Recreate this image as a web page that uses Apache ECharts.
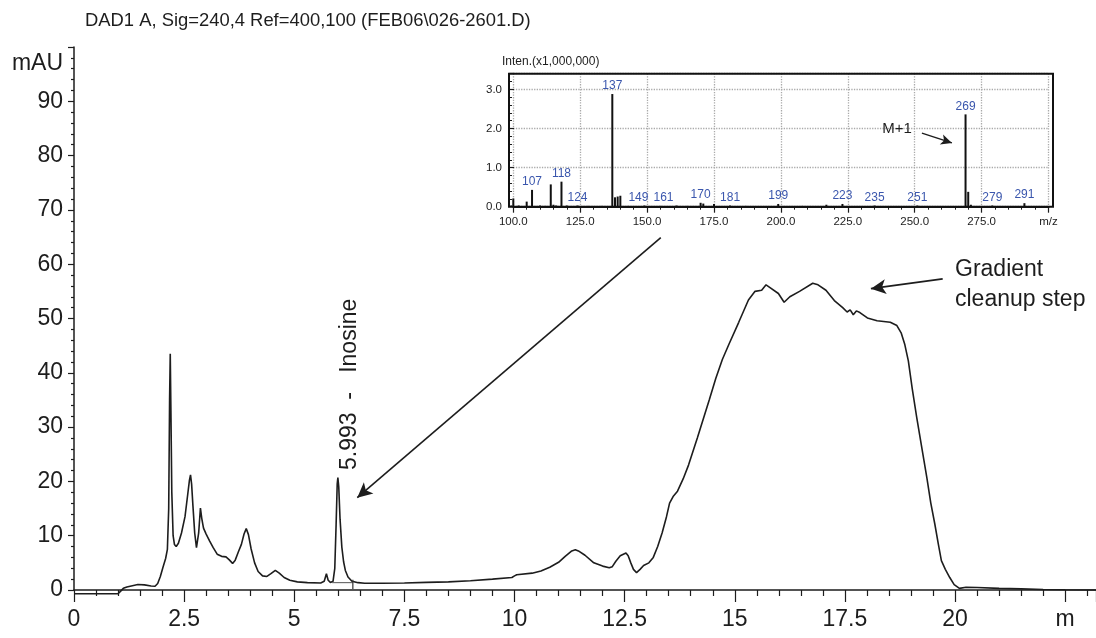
<!DOCTYPE html>
<html><head><meta charset="utf-8">
<script src="https://cdn.jsdelivr.net/npm/echarts@6/dist/echarts.min.js"></script>
<style>html,body{margin:0;padding:0;background:#fff}#c{width:1096px;height:638px}</style>
</head><body><div id="c"></div>
<script>
// ---- Chromatogram (retention time in min, absorbance in mAU) ----
const chromatogram = [
  [0,-0.7],[1.0,-0.7],[1.06,-0.2],[1.12,0.3],[1.2,0.55],[1.3,0.75],[1.45,1.0],[1.6,0.95],[1.75,0.75],[1.84,0.7],
  [1.9,1.2],[1.96,2.5],[2.02,4.2],[2.08,5.8],[2.12,7.5],[2.15,15],[2.17,35],[2.185,43.5],[2.2,33],[2.22,18],
  [2.25,10],[2.28,8.4],[2.32,8.0],[2.37,8.6],[2.44,10.5],[2.52,13.5],[2.58,17.5],[2.62,20.2],[2.645,21.2],[2.67,19.5],
  [2.7,15.5],[2.74,10.5],[2.78,7.8],[2.8,7.6],[2.83,10.5],[2.87,15.1],[2.9,13.2],[2.94,11.4],[3.0,10.3],[3.08,9.0],
  [3.16,7.8],[3.25,6.6],[3.35,6.2],[3.45,6.1],[3.52,5.6],[3.6,4.9],[3.66,5.5],[3.73,7.0],[3.8,8.4],[3.86,10.3],
  [3.91,11.3],[3.96,10.2],[4.02,7.6],[4.1,5.0],[4.18,3.4],[4.28,2.6],[4.38,2.5],[4.47,3.0],[4.57,3.6],[4.66,3.1],
  [4.77,2.3],[4.9,1.8],[5.07,1.5],[5.3,1.35],[5.6,1.3],[5.68,1.6],[5.73,3.0],[5.77,1.8],[5.82,1.4],[5.88,1.6],
  [5.92,4.0],[5.95,12.0],[5.975,19.5],[5.99,20.7],[6.01,19.0],[6.04,13.0],[6.08,7.9],[6.12,5.2],[6.16,3.6],[6.22,2.4],
  [6.31,1.6],[6.45,1.35],[6.6,1.25],[7.0,1.25],[7.5,1.3],[8.0,1.4],[8.5,1.5],[9.0,1.7],[9.5,2.0],[9.94,2.3],
  [10.0,2.6],[10.05,2.8],[10.4,3.1],[10.6,3.5],[10.8,4.2],[11.0,5.1],[11.15,6.2],[11.3,7.2],[11.38,7.4],[11.45,7.2],
  [11.6,6.4],[11.8,5.0],[12.0,4.4],[12.15,4.1],[12.22,4.3],[12.3,5.3],[12.4,6.3],[12.53,6.8],[12.58,6.3],[12.64,5.0],
  [12.7,3.8],[12.77,3.2],[12.85,3.8],[12.93,4.5],[13.05,5.0],[13.15,6.0],[13.25,8.0],[13.35,10.5],[13.45,13.5],[13.52,16.0],
  [13.6,17.2],[13.7,18.2],[13.83,20.5],[13.95,23.0],[14.15,28.0],[14.42,35.0],[14.57,39.0],[14.72,42.5],[14.87,45.3],[15.09,49.3],
  [15.31,53.4],[15.46,55.0],[15.61,55.2],[15.71,56.2],[15.8,55.7],[15.99,54.6],[16.12,53.0],[16.25,54.0],[16.47,55.0],[16.77,56.5],
  [16.89,56.2],[17.07,55.2],[17.26,53.3],[17.45,52.0],[17.55,51.2],[17.62,51.6],[17.69,50.7],[17.76,51.4],[17.84,51.1],[18.01,50.1],
  [18.23,49.6],[18.53,49.3],[18.68,48.7],[18.78,47.3],[18.86,45.2],[18.94,42.2],[19.03,37.0],[19.13,31.8],[19.25,26.0],[19.36,20.7],
  [19.45,16.0],[19.54,12.2],[19.62,8.5],[19.69,5.4],[19.78,3.8],[19.88,2.3],[19.98,1.0],[20.1,0.3],[20.25,0.5],[20.5,0.45],
  [21.0,0.3],[21.5,0.2],[22.0,0.1],[22.5,0.05],[23.2,0.0]
];
const integrationBaseline = [[5.86,1.35],[6.33,1.35]];
const integrationMarker = [[6.33,1.9],[6.33,0.2]];

// ---- Inset mass spectrum (m/z, intensity x1,000,000) ----
const spectrum = [
  [99,0.04],[100,0.21],[102,0.03],[105,0.13],[107,0.43],[110,0.03],[112,0.02],[114,0.57],[115,0.05],[116,0.03],
  [118,0.64],[120,0.03],[124,0.03],[128,0.02],[133,0.02],[137,2.88],[138,0.24],[139,0.26],[140,0.28],[143,0.02],
  [149,0.03],[155,0.02],[161,0.03],[165,0.02],[170,0.10],[171,0.08],[175,0.07],[181,0.03],[187,0.02],[199,0.07],
  [208,0.02],[217,0.05],[223,0.07],[235,0.03],[251,0.03],[269,2.36],[270,0.38],[271,0.05],[279,0.03],[291,0.09]
];
const labeledMz = [107,118,124,137,149,161,170,181,199,223,235,251,269,279,291];

// ---- Texts ----
const titleText = 'DAD1 A, Sig=240,4 Ref=400,100 (FEB06\\026-2601.D)';
const yUnit = 'mAU';
const xUnitLabel = 'm';
const peakAnnotation = '5.993  -   Inosine';
const cleanupAnnotation = 'Gradient\ncleanup step';
const insetYName = 'Inten.(x1,000,000)';
const insetXUnit = 'm/z';
const molecularIon = 'M+1';

// ---- Arrows (data coordinates) ----
const arrowToPeak = [[13.32, 64.9],[6.43, 17.0]];
const arrowToCleanup = [[19.72, 57.3],[18.09, 55.5]];
const arrowToMolIon = [[252.7, 1.88],[263.9, 1.63]];

const FF = "'Liberation Sans', Arial, Helvetica, sans-serif";
const INK = '#1d1d1d';
const labelOffsets = {149: [-6, 0], 161: [-13, 0]};

const chart = echarts.init(document.getElementById('c'), null, {renderer: 'canvas'});

const isMultiple = (v, s) => Math.abs(v / s - Math.round(v / s)) < 1e-6;

const spectrumData = spectrum.map(([mz, it]) => ({
  value: [mz, it],
  label: {show: labeledMz.includes(mz), offset: labelOffsets[mz] || [0, 0]}
}));

const option = {
  animation: false,
  backgroundColor: '#fff',
  textStyle: {fontFamily: FF},
  grid: [
    {left: 74, top: 47, width: 1022, height: 543},
    {left: 513.3, top: 73.7, width: 535.2, height: 133}
  ],
  xAxis: [
    {
      type: 'value', gridIndex: 0, min: 0, max: 23.2, interval: 2.5,
      axisLine: {onZero: false, lineStyle: {color: INK, width: 1.5}},
      axisTick: {show: true, length: 12, lineStyle: {color: INK, width: 1.2}},
      minorTick: {show: true, splitNumber: 5, length: 6, lineStyle: {color: INK, width: 1.2}},
      splitLine: {show: false},
      axisLabel: {
        fontSize: 23, color: INK, fontFamily: FF, margin: 18, showMaxLabel: false,
        formatter: v => Math.abs(v - 22.5) < 1e-6 ? xUnitLabel : (isMultiple(v, 2.5) ? String(v) : '')
      }
    },
    {
      type: 'value', gridIndex: 1, min: 100, max: 300, interval: 25,
      axisLine: {onZero: false, lineStyle: {color: INK, width: 2}},
      axisTick: {show: true, length: 6, lineStyle: {color: INK, width: 1.2}},
      minorTick: {show: true, splitNumber: 5, length: 3, lineStyle: {color: INK, width: 1}},
      splitLine: {show: true, lineStyle: {type: 'dotted', color: '#aaa', width: 1.3}},
      axisLabel: {
        fontSize: 11.5, color: INK, fontFamily: FF, margin: 9,
        formatter: v => Math.abs(v - 300) < 1e-6 ? insetXUnit : v.toFixed(1)
      }
    }
  ],
  yAxis: [
    {
      type: 'value', gridIndex: 0, min: 0, max: 100, interval: 10,
      axisLine: {show: true, lineStyle: {color: INK, width: 1.5}},
      axisTick: {show: true, length: 6, lineStyle: {color: INK, width: 1.2}},
      minorTick: {show: true, splitNumber: 5, length: 3, lineStyle: {color: INK, width: 1.2}},
      splitLine: {show: false},
      axisLabel: {
        fontSize: 23, color: INK, fontFamily: FF, margin: 11,
        formatter: v => v >= 100 ? '' : String(v)
      }
    },
    {
      type: 'value', gridIndex: 1, min: 0, max: 3.4, interval: 1, offset: 4.3,
      axisLine: {show: false},
      axisTick: {show: true, inside: true, length: 5, lineStyle: {color: INK, width: 1.2}},
      minorTick: {show: true, splitNumber: 5, length: 3, lineStyle: {color: INK, width: 1}},
      splitLine: {show: true, lineStyle: {type: 'dotted', color: '#aaa', width: 1.3}},
      axisLabel: {
        fontSize: 11.5, color: INK, fontFamily: FF, margin: 7,
        formatter: v => v > 3.2 ? '' : v.toFixed(1)
      }
    }
  ],
  series: [
    {
      type: 'line', xAxisIndex: 0, yAxisIndex: 0, data: chromatogram,
      showSymbol: false, clip: false, silent: true,
      lineStyle: {color: INK, width: 1.6},
      markLine: {
        silent: true, animation: false, symbol: ['none', 'none'], symbolSize: [12, 16],
        label: {show: false},
        lineStyle: {color: INK, width: 1.6, type: 'solid'},
        data: [
          [{coord: arrowToPeak[0], symbol: 'none'}, {coord: arrowToPeak[1], symbol: 'arrow', symbolSize: [11, 15]}],
          [{coord: arrowToCleanup[0], symbol: 'none'}, {coord: arrowToCleanup[1], symbol: 'arrow', symbolSize: [11, 15]}]
        ]
      }
    },
    {
      type: 'line', xAxisIndex: 0, yAxisIndex: 0, data: integrationBaseline,
      showSymbol: false, silent: true, lineStyle: {color: '#555', width: 1}
    },
    {
      type: 'line', xAxisIndex: 0, yAxisIndex: 0, data: integrationMarker,
      showSymbol: false, silent: true, lineStyle: {color: '#333', width: 1.2}
    },
    {
      type: 'bar', xAxisIndex: 1, yAxisIndex: 1, data: spectrumData,
      barWidth: 2, silent: true,
      itemStyle: {color: '#111'},
      label: {show: false, position: 'top', distance: 2, color: '#3a56ad', fontSize: 12, fontFamily: FF,
              formatter: p => String(p.value[0])},
      markLine: {
        silent: true, animation: false, symbol: ['none', 'none'],
        label: {show: false},
        lineStyle: {color: INK, width: 1.4, type: 'solid'},
        data: [
          [{coord: arrowToMolIon[0], symbol: 'none'}, {coord: arrowToMolIon[1], symbol: 'arrow', symbolSize: [8, 11]}]
        ]
      }
    }
  ],
  graphic: [
    {type: 'rect', z: 100, silent: true, shape: {x: 509, y: 73.7, width: 544, height: 133},
     style: {fill: 'none', stroke: '#111', lineWidth: 2}},
    {type: 'text', z: 100, x: 85, y: 21, silent: true,
     style: {text: titleText, fontSize: 18.4, fontFamily: FF, fill: INK, align: 'left', verticalAlign: 'middle', textAlign: 'left', textVerticalAlign: 'middle'}},
    {type: 'text', z: 100, x: 63, y: 64, silent: true,
     style: {text: yUnit, fontSize: 23, fontFamily: FF, fill: INK, align: 'right', verticalAlign: 'middle', textAlign: 'right', textVerticalAlign: 'middle'}},
    {type: 'text', z: 100, x: 350, y: 470, rotation: Math.PI / 2, silent: true,
     style: {text: peakAnnotation, fontSize: 23, fontFamily: FF, fill: INK, align: 'left', verticalAlign: 'middle', textAlign: 'left', textVerticalAlign: 'middle'}},
    {type: 'text', z: 100, x: 955, y: 255, silent: true,
     style: {text: cleanupAnnotation, fontSize: 23, lineHeight: 30, fontFamily: FF, fill: INK, align: 'left', verticalAlign: 'top', textAlign: 'left', textVerticalAlign: 'top'}},
    {type: 'text', z: 100, x: 502, y: 62, silent: true,
     style: {text: insetYName, fontSize: 12, fontFamily: FF, fill: INK, align: 'left', verticalAlign: 'middle', textAlign: 'left', textVerticalAlign: 'middle'}},
    {type: 'text', z: 100, x: 897, y: 129, silent: true,
     style: {text: molecularIon, fontSize: 15, fontFamily: FF, fill: INK, align: 'center', verticalAlign: 'middle', textAlign: 'center', textVerticalAlign: 'middle'}}
  ]
};
chart.setOption(option);
</script>
</body></html>
